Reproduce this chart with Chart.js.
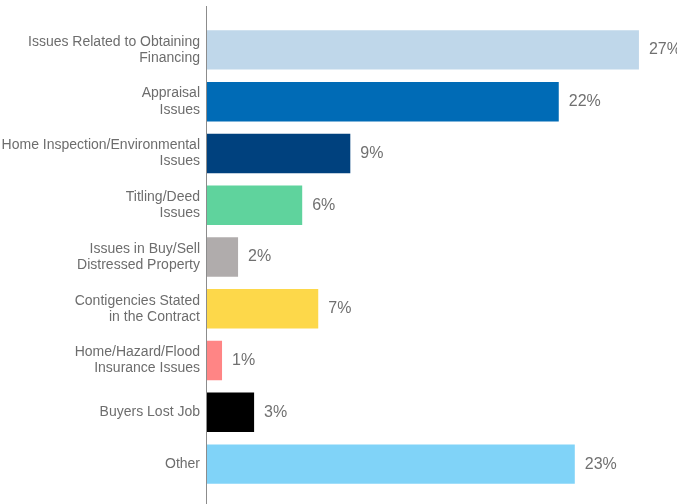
<!DOCTYPE html>
<html>
<head>
<meta charset="utf-8">
<script src="https://cdn.jsdelivr.net/npm/chart.js@4/dist/chart.umd.min.js"></script>
<style>
  html, body { margin: 0; padding: 0; background: #fff; }
  #wrap { width: 677px; height: 504px; }
</style>
</head>
<body>
<div id="wrap"><canvas id="chart"></canvas></div>
<script>
// categories and values
const categories = [
    ['Issues Related to Obtaining', 'Financing'],
    ['Appraisal', 'Issues'],
    ['Home Inspection/Environmental', 'Issues'],
    ['Titling/Deed', 'Issues'],
    ['Issues in Buy/Sell', 'Distressed Property'],
    ['Contigencies Stated', 'in the Contract'],
    ['Home/Hazard/Flood', 'Insurance Issues'],
    'Buyers Lost Job',
    'Other'
];
const values = [27, 22, 9, 6, 2, 7, 1, 3, 23];
const barColors = ['#bfd7ea', '#006bb6', '#00417e', '#5fd39d', '#b0acac', '#fdd84a', '#ff8585', '#000000', '#80d3f8'];

const valueLabels = {
    id: 'valueLabels',
    afterDatasetsDraw(chart) {
        const ctx = chart.ctx;
        const meta = chart.getDatasetMeta(0);
        ctx.save();
        ctx.font = '16px "Liberation Sans", Arial, sans-serif';
        ctx.fillStyle = '#707070';
        ctx.textAlign = 'left';
        ctx.textBaseline = 'middle';
        meta.data.forEach((bar, i) => {
            ctx.fillText(values[i] + '%', bar.x + 9, bar.y);
        });
        ctx.restore();
    }
};

const axisLine = {
    id: 'axisLine',
    afterDraw(chart) {
        const ctx = chart.ctx;
        const x = Math.round(chart.scales.x.getPixelForValue(0));
        ctx.save();
        ctx.strokeStyle = '#8c8c8c';
        ctx.lineWidth = 1;
        ctx.beginPath();
        ctx.moveTo(x - 0.5, 6);
        ctx.lineTo(x - 0.5, chart.height);
        ctx.stroke();
        ctx.restore();
    }
};

new Chart(document.getElementById('chart'), {
    type: 'bar',
    data: {
        labels: categories,
        datasets: [{
            data: values,
            backgroundColor: barColors,
            borderColor: 'rgba(255,255,255,0.6)',
            borderWidth: 1,
            barPercentage: 0.8,
            categoryPercentage: 1
        }]
    },
    options: {
        indexAxis: 'y',
        responsive: true,
        maintainAspectRatio: false,
        animation: false,
        layout: { padding: { top: 24, bottom: 14, left: 0, right: 5 } },
        plugins: {
            legend: { display: false },
            tooltip: { enabled: false }
        },
        scales: {
            x: {
                display: false,
                min: 0,
                max: 29
            },
            y: {
                grid: { display: false, drawTicks: false },
                border: { display: false },
                afterFit(scale) {
                    scale.width = 207;
                    scale.paddingTop = 0;
                    scale.paddingBottom = 0;
                },
                ticks: {
                    padding: 7,
                    color: '#6d6d6d',
                    font: { family: '"Liberation Sans", Arial, sans-serif', size: 14, lineHeight: 1.15 }
                }
            }
        }
    },
    plugins: [valueLabels, axisLine]
});
</script>
</body>
</html>
